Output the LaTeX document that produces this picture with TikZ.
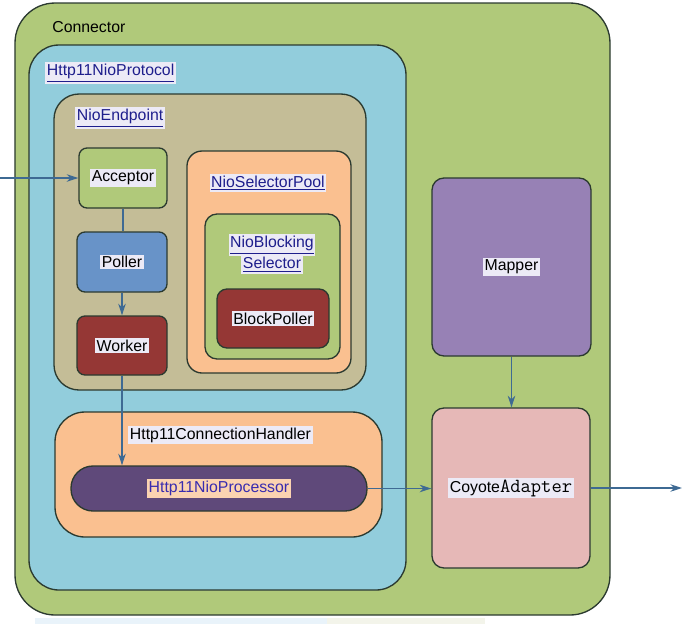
\documentclass[tikz,border=0pt]{standalone}
\usepackage{fontspec}
\setmainfont{Liberation Sans}
\usetikzlibrary{arrows.meta}
\definecolor{conngreen}{HTML}{B0C97A}
\definecolor{protoblue}{HTML}{92CDDC}
\definecolor{endtan}{HTML}{C4BD97}
\definecolor{peach}{HTML}{FAC090}
\definecolor{pollerblue}{HTML}{6893C8}
\definecolor{darkred}{HTML}{953735}
\definecolor{procpurple}{HTML}{5F497A}
\definecolor{mapperpurple}{HTML}{9781B5}
\definecolor{adapterpink}{HTML}{E6B8B7}
\definecolor{arrowblue}{HTML}{3E6A93}
\definecolor{edge}{HTML}{2B3A30}
\definecolor{lblbg}{HTML}{ECEAF6}
\definecolor{linkblue}{HTML}{1E1E8C}
\definecolor{stripblue}{HTML}{E9F3FA}
\definecolor{stripbeige}{HTML}{F3F4EA}
\newcommand\pxu{0.6pt}
\newcommand\hl[1]{{\setlength{\fboxsep}{1pt}\colorbox{lblbg}{#1}}}
\newcommand\hlink[1]{\hl{\textcolor{linkblue}{\underline{#1}}}}

\begin{document}
\begin{tikzpicture}[x=0.6pt, y=-0.6pt, font=\fontsize{9.5}{11.5}\selectfont,
  box/.style = {draw=edge, line width=0.8pt, rounded corners=8*\pxu, inner sep=0pt},
  arr/.style = {draw=arrowblue, line width=0.7pt, -{Stealth[length=7pt, width=4.5pt]}},
  link/.style = {inner sep=0pt}]
\useasboundingbox (0,0) rectangle (691,624);
\fill[stripblue] (35,618) rectangle (327,624);
\fill[stripbeige] (327,618) rectangle (485,624);
\node[box, fill=conngreen, rounded corners=40*\pxu, minimum width=595*\pxu, minimum height=612*\pxu] (conn) at (312.5,309) {};
\node[link, anchor=west] (connlbl) at (52,27) {Connector};
\node[box, fill=protoblue, rounded corners=30*\pxu, minimum width=377*\pxu, minimum height=545*\pxu] (proto) at (217.5,317.5) {};
\node[link, anchor=west] (protolbl) at (45,73) {\hlink{Http11NioProtocol}};
\node[box, fill=endtan, rounded corners=25*\pxu, minimum width=312*\pxu, minimum height=296*\pxu] (endpoint) at (210,242) {};
\node[link, anchor=west] (endpointlbl) at (75,118) {\hlink{NioEndpoint}};
\node[box, fill=conngreen, minimum width=88*\pxu, minimum height=60*\pxu] (acceptor) at (123,178) {\hl{Acceptor}};
\node[box, fill=pollerblue, minimum width=90*\pxu, minimum height=60*\pxu] (poller) at (122,262) {\hl{Poller}};
\node[box, fill=darkred, minimum width=90*\pxu, minimum height=59*\pxu] (worker) at (122,345.5) {\hl{Worker}};
\node[box, fill=peach, rounded corners=15*\pxu, minimum width=164*\pxu, minimum height=222*\pxu] (selpool) at (269,262) {};
\node[link] (selpoollbl) at (268,183) {\hlink{NioSelectorPool}};
\node[box, fill=conngreen, rounded corners=12*\pxu, minimum width=135*\pxu, minimum height=145*\pxu] (blocksel) at (272.5,286.5) {};
\node[link, align=center] (blocksellbl) at (272,254) {\hlink{NioBlocking}\\[-1pt]\hlink{Selector}};
\node[box, fill=darkred, rounded corners=10*\pxu, minimum width=112*\pxu, minimum height=59*\pxu] (blockpoller) at (273,318.5) {\hl{BlockPoller}};
\node[box, fill=peach, rounded corners=30*\pxu, minimum width=327*\pxu, minimum height=125*\pxu] (handler) at (218.5,474.5) {};
\node[link, anchor=west] (handlerlbl) at (128,435) {\hl{Http11ConnectionHandler}};
\node[box, fill=procpurple, rounded corners=22*\pxu, minimum width=296*\pxu, minimum height=45*\pxu] (processor) at (219,488.5) {{\setlength{\fboxsep}{1pt}\colorbox{peach!70!white}{\textcolor{procpurple!60!blue}{Http11NioProcessor}}}};
\node[box, fill=mapperpurple, rounded corners=12*\pxu, minimum width=159*\pxu, minimum height=178*\pxu] (mapper) at (511.5,267) {\hl{Mapper}};
\node[box, fill=adapterpink, rounded corners=12*\pxu, minimum width=158*\pxu, minimum height=160*\pxu] (adapter) at (511,488) {\hl{Coyote{\ttfamily\fontsize{12}{12}\selectfont Adapter}}};
\coordinate (in) at (0,178);
\coordinate (out) at (682,488);
\draw[arr] (in) -- (acceptor.west);
\draw[draw=arrowblue, line width=0.7pt] (acceptor.south) -- (acceptor.south |- poller.north);
\draw[arr] (poller.south) -- (worker.north);
\draw[arr] (worker.south) -- (worker.south |- processor.north);
\draw[arr] (processor.east) -- (adapter.west |- processor.east);
\draw[arr] (mapper.south) -- (mapper.south |- adapter.north);
\draw[arr] (adapter.east) -- (out);
\end{tikzpicture}
\end{document}
